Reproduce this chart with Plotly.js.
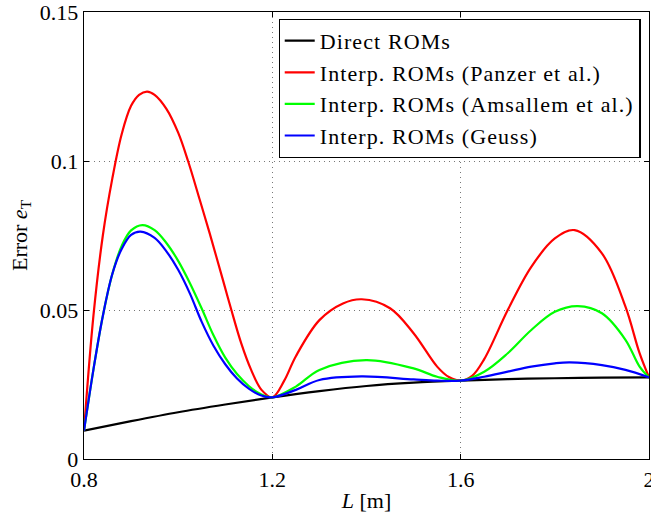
<!DOCTYPE html>
<html>
<head>
<meta charset="utf-8">
<script src="https://cdn.plot.ly/plotly-3.0.1.min.js"></script>
<style>
html,body{margin:0;padding:0;background:#fff;}
#chart{width:651px;height:517px;}
.legendtext{letter-spacing:1.1px;}
</style>
</head>
<body>
<div id="chart"></div>
<script>
// Direct ROMs
const directL = [0.8, 0.9, 1.0, 1.1, 1.2, 1.3, 1.4, 1.5, 1.6, 1.7, 1.8, 1.9, 2.0];
const directE = [0.0095, 0.0127, 0.0157, 0.0183, 0.0207, 0.0228, 0.0245, 0.0256, 0.0263, 0.0268, 0.0271, 0.0273, 0.0274];

// Interp. ROMs (Panzer et al.)
const panzerL = [0.8, 0.82, 0.84, 0.86, 0.88, 0.9, 0.917, 0.934, 0.95, 0.975, 1.0, 1.021, 1.046, 1.067, 1.095, 1.113, 1.134, 1.155, 1.177, 1.2,
                 1.225, 1.25, 1.3, 1.35, 1.39, 1.45, 1.5, 1.55, 1.575, 1.6,
                 1.625, 1.65, 1.7, 1.75, 1.8, 1.842, 1.9, 1.95, 1.98, 2.0];
const panzerE = [0.0095, 0.048, 0.075, 0.094, 0.109, 0.1185, 0.1222, 0.1233, 0.1222, 0.1175, 0.1095, 0.1, 0.0869, 0.0757, 0.0601, 0.05, 0.0388, 0.0299, 0.0232, 0.0207,
                 0.0262, 0.0345, 0.0466, 0.0522, 0.0536, 0.0506, 0.0422, 0.031, 0.0275, 0.0263,
                 0.028, 0.0335, 0.050, 0.0645, 0.074, 0.0768, 0.069, 0.0511, 0.0355, 0.0274];

// Interp. ROMs (Amsallem et al.)
const amsallemL = [0.8, 0.82, 0.84, 0.86, 0.88, 0.9, 0.924, 0.95, 0.975, 1.0, 1.025, 1.05, 1.075, 1.1, 1.125, 1.15, 1.175, 1.2,
                   1.25, 1.3, 1.399, 1.5, 1.55, 1.6,
                   1.65, 1.7, 1.75, 1.8, 1.849, 1.9, 1.95, 1.98, 2.0];
const amsallemE = [0.0095, 0.030, 0.048, 0.062, 0.0715, 0.0767, 0.0785, 0.0768, 0.0725, 0.0665, 0.059, 0.0505, 0.0415, 0.034, 0.0285, 0.0245, 0.0218, 0.0207,
                   0.0243, 0.0299, 0.0332, 0.0304, 0.0276, 0.0263,
                   0.0293, 0.0355, 0.0433, 0.0494, 0.0513, 0.0489, 0.040, 0.031, 0.0274];

// Interp. ROMs (Geuss)
const geussL = [0.8, 0.82, 0.84, 0.86, 0.88, 0.9, 0.92, 0.95, 0.975, 1.0, 1.025, 1.05, 1.075, 1.1, 1.125, 1.15, 1.175, 1.2,
                1.25, 1.3, 1.389, 1.5, 1.55, 1.6,
                1.65, 1.7, 1.75, 1.8, 1.832, 1.9, 1.95, 2.0];
const geussE = [0.0095, 0.030, 0.048, 0.062, 0.0705, 0.0752, 0.0763, 0.0742, 0.0697, 0.0635, 0.0555, 0.046, 0.038, 0.0318, 0.027, 0.0236, 0.0214, 0.0207,
                0.0232, 0.0265, 0.0277, 0.0267, 0.0263, 0.0263,
                0.0276, 0.0293, 0.031, 0.0321, 0.0324, 0.0315, 0.0299, 0.0274];

const seriesNames = ['Direct ROMs', 'Interp. ROMs (Panzer et al.)', 'Interp. ROMs (Amsallem et al.)', 'Interp. ROMs (Geuss)'];
const seriesColors = ['#000000', '#ff0000', '#00ff00', '#0000ff'];
const xTicks = [0.8, 1.2, 1.6, 2.0];
const xTickText = ['0.8', '1.2', '1.6', '2'];
const yTicks = [0, 0.05, 0.1, 0.15];
const yTickText = ['0', '0.05', '0.1', '0.15'];

const xs = [directL, panzerL, amsallemL, geussL];
const ys = [directE, panzerE, amsallemE, geussE];

const traces = xs.map((x, i) => ({
  x: x, y: ys[i], type: 'scatter', mode: 'lines', name: seriesNames[i],
  line: {color: seriesColors[i], width: 2.2, shape: 'spline', smoothing: 1}
}));

const FAM = 'Liberation Serif, Times New Roman, serif';
const f = (s) => ({family: FAM, size: s, color: '#000'});

const axisCommon = {
  ticks: 'inside', ticklen: 5, tickcolor: '#000', tickwidth: 1,
  showline: true, linecolor: '#000', linewidth: 1.3, mirror: 'ticks',
  showgrid: true, gridcolor: '#777', griddash: '1px,4px', gridwidth: 1,
  zeroline: false, ticklabeloverflow: 'allow',
  tickfont: f(22)
};

const layout = {
  width: 651, height: 517,
  margin: {l: 84, r: 2, t: 12, b: 58},
  paper_bgcolor: '#fff', plot_bgcolor: '#fff',
  showlegend: true,
  legend: {
    x: 0.985, xanchor: 'right', y: 0.985, yanchor: 'top',
    bgcolor: '#fff', bordercolor: '#000', borderwidth: 1.2,
    font: f(22), tracegroupgap: 0, itemwidth: 30
  },
  xaxis: Object.assign({}, axisCommon, {
    range: [0.8, 2.0], tickvals: xTicks, ticktext: xTickText,
    title: {text: '<i>L</i> [m]', font: f(22), standoff: 2}
  }),
  yaxis: Object.assign({}, axisCommon, {
    range: [0, 0.15], tickvals: yTicks, ticktext: yTickText,
    title: {text: 'Error <i>e</i><sub>T</sub>', font: f(22), standoff: 6}
  })
};

Plotly.newPlot('chart', traces, layout, {displayModeBar: false, staticPlot: true});
</script>
</body>
</html>
